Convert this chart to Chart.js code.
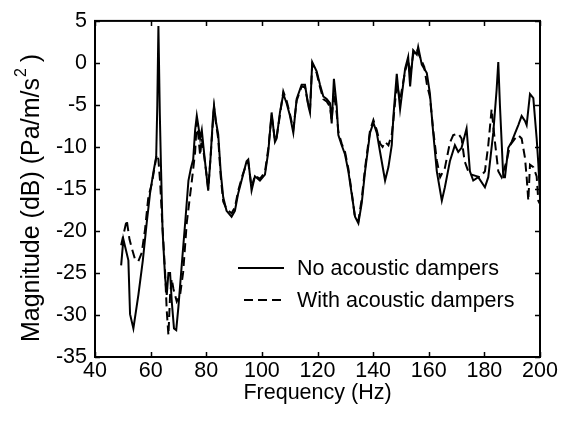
<!DOCTYPE html>
<html>
<head>
<meta charset="utf-8">
<script src="https://cdn.jsdelivr.net/npm/chart.js@4.4.1/dist/chart.umd.min.js"></script>
<style>
body{margin:0;background:#fff;}
#wrap{width:575px;height:421px;position:relative;}
</style>
</head>
<body>
<div id="wrap"><canvas id="magChart"></canvas></div>
<script>
const noDampFreq = [49.4,50.2,52.0,52.6,53.8,55.6,57.2,58.6,59.8,61.0,62.0,62.4,62.8,63.3,63.7,64.3,65.2,65.8,66.4,67.0,67.6,68.4,69.2,70.0,71.2,72.5,73.6,74.5,75.3,76.0,76.6,77.2,77.8,78.4,79.0,79.8,80.7,81.6,82.5,82.8,83.5,84.3,85.2,86.1,87.3,89.1,90.3,91.5,93.0,94.5,95.1,96.3,97.5,99.3,101.1,102.3,103.5,104.7,105.3,106.5,107.7,108.9,110.1,111.3,112.5,114.3,115.5,116.7,117.3,118.1,119.7,120.9,122.1,123.3,124.5,125.1,125.9,126.9,127.5,128.7,129.9,131.1,132.3,133.5,134.7,135.9,137.1,138.9,140.1,141.3,142.5,144.3,145.5,146.7,147.3,148.5,149.7,151.5,152.6,153.3,154.4,155.7,156.2,157.5,159.3,160.4,161.6,162.9,164.7,165.8,167.6,169.4,170.6,171.8,173.6,174.8,176.0,177.8,180.2,181.4,183.2,184.4,185.0,185.6,186.8,187.4,188.6,189.8,191.0,192.2,193.4,194.6,195.2,196.4,197.6,198.8,199.4,200.0];
const noDampMag = [-24.1,-21.0,-23.5,-29.9,-31.6,-27.6,-23.5,-19.0,-15.5,-13.0,-11.2,-5.0,4.4,-6.0,-12.0,-20.0,-25.5,-27.6,-25.0,-25.0,-28.4,-31.6,-31.8,-29.0,-24.0,-18.7,-14.0,-12.5,-11.5,-8.0,-6.3,-7.6,-9.0,-8.0,-10.0,-12.5,-15.2,-11.0,-6.0,-5.1,-7.0,-8.5,-13.0,-16.0,-17.6,-18.3,-17.6,-15.5,-13.6,-11.7,-11.5,-15.2,-13.5,-14.0,-13.3,-10.6,-5.9,-9.4,-9.0,-5.9,-3.7,-4.8,-6.3,-8.3,-4.3,-2.6,-2.6,-5.1,-5.9,0.1,-1.0,-2.6,-4.0,-4.3,-4.8,-7.2,-1.9,-5.1,-8.6,-9.8,-10.9,-12.9,-15.6,-18.3,-19.1,-16.7,-12.9,-8.3,-7.1,-8.3,-10.6,-14.0,-12.4,-9.8,-6.3,-1.3,-5.5,-0.7,0.7,-2.8,1.5,1.0,1.9,-0.2,-1.2,-3.6,-8.3,-12.9,-16.4,-14.8,-11.7,-9.8,-10.6,-10.1,-7.8,-12.9,-14.0,-13.6,-14.8,-13.6,-8.3,-3.2,0.1,-5.1,-13.6,-13.6,-10.1,-9.4,-8.4,-7.4,-6.3,-6.9,-7.4,-3.7,-4.2,-9.0,-12.0,-16.0];
const dampFreq = [49.4,50.2,51.4,52.4,53.2,54.4,55.6,56.8,58.0,59.2,60.4,61.6,62.2,62.8,63.4,64.0,65.2,65.8,66.4,67.0,67.6,68.2,69.4,70.6,71.7,73.0,74.8,76.0,76.6,77.1,77.8,78.4,79.2,80.0,80.7,81.6,82.5,82.8,83.5,84.3,85.2,86.1,87.3,89.1,90.3,91.5,93.0,94.5,95.1,96.3,97.5,99.3,101.1,102.3,103.5,104.7,105.3,106.5,107.7,108.9,110.1,111.3,112.5,114.3,115.5,116.7,117.3,118.1,119.7,120.9,122.1,123.3,124.5,125.1,125.9,126.9,127.5,128.7,129.9,131.1,132.3,133.5,134.7,135.9,137.1,138.9,140.1,141.3,142.5,143.4,144.3,145.5,146.7,147.3,148.5,149.7,151.5,152.6,153.3,154.4,155.7,156.2,157.5,158.4,159.3,160.4,161.6,162.9,164.1,165.8,167.6,168.8,170.6,171.8,172.9,174.2,175.4,178.4,180.2,181.4,182.6,183.8,185.0,186.2,188.0,189.2,191.0,192.2,193.4,194.6,195.2,195.8,196.4,197.6,198.8,199.4,200.0];
const dampMag = [-21.7,-20.5,-18.7,-21.0,-22.0,-23.4,-23.6,-22.6,-19.8,-15.9,-14.4,-12.1,-10.9,-11.5,-14.1,-17.9,-24.9,-29.5,-32.4,-27.6,-25.7,-26.9,-28.4,-27.6,-24.9,-19.0,-14.1,-10.6,-7.0,-8.5,-11.0,-9.0,-11.0,-13.0,-15.0,-11.0,-6.5,-5.3,-7.2,-9.0,-13.5,-16.5,-17.4,-17.9,-17.2,-15.2,-13.4,-12.0,-11.8,-14.8,-13.4,-13.8,-13.0,-10.2,-6.2,-9.2,-8.8,-6.2,-3.4,-4.5,-6.1,-7.9,-4.5,-2.8,-2.9,-5.0,-5.6,-0.2,-1.2,-2.9,-4.3,-4.6,-5.2,-6.8,-3.5,-6.0,-8.2,-9.6,-10.6,-12.6,-15.4,-18.5,-18.8,-16.2,-12.5,-8.0,-6.8,-8.0,-9.6,-10.0,-9.4,-9.8,-8.5,-6.8,-2.5,-4.4,-1.0,0.4,-1.5,1.0,1.7,1.2,0.2,-0.5,-2.5,-4.0,-8.0,-11.6,-13.6,-12.5,-9.5,-8.6,-8.4,-9.0,-11.7,-12.9,-13.3,-13.6,-12.9,-9.8,-5.5,-9.4,-12.9,-13.6,-11.7,-9.8,-9.0,-8.6,-9.0,-11.3,-13.6,-16.4,-12.1,-12.4,-13.5,-16.4,-16.8];
const xTicks = [40,60,80,100,120,140,160,180,200];
const yTicks = [-35,-30,-25,-20,-15,-10,-5,0,5];
const seriesNames = ["No acoustic dampers","With acoustic dampers"];
const xTitle = "Frequency (Hz)";
const yTitleParts = ["Magnitude (dB) (Pa/m/s","2"," )"];

const fontFam = "'Liberation Sans', Arial, Helvetica, sans-serif";
const fontSize = 21.5;

function toPoints(xs,ys){
return xs.map((x,i)=>({x:x,y:ys[i]}));
}

const framePlugin = {
id:"frame",
afterDatasetsDraw(chart){
const ctx = chart.ctx;
const a = chart.chartArea;
const xs = chart.scales.x;
const ys = chart.scales.y;
ctx.save();

ctx.strokeStyle = "#000";
ctx.lineWidth = 1.5;
ctx.beginPath();
xTicks.forEach(v=>{
let px = Math.round(xs.getPixelForValue(v))+0.5;
ctx.moveTo(px,a.bottom); ctx.lineTo(px,a.bottom-5);
ctx.moveTo(px,a.top); ctx.lineTo(px,a.top+5);
});
yTicks.forEach(v=>{
let py = Math.round(ys.getPixelForValue(v))+0.5;
ctx.moveTo(a.left,py); ctx.lineTo(a.left+5,py);
ctx.moveTo(a.right,py); ctx.lineTo(a.right-5,py);
});
ctx.stroke();

ctx.lineWidth = 2;
ctx.strokeRect(a.left,a.top,a.right-a.left,a.bottom-a.top);

// legend inside the plot
ctx.font = fontSize + "px " + fontFam;
ctx.fillStyle = "#000";
ctx.textBaseline = "middle";
ctx.textAlign = "left";
let rows = [268,300];
chart.data.datasets.forEach((ds,i)=>{
ctx.lineWidth = ds.borderWidth;
ctx.setLineDash(ds.borderDash || []);
ctx.beginPath();
ctx.moveTo(i==0 ? 238 : 244, rows[i]);
ctx.lineTo(284, rows[i]);
ctx.stroke();
ctx.setLineDash([]);
ctx.fillText(ds.label, 297, rows[i]+1);
});

// y axis title with superscript
let bigFont = "25px " + fontFam;
let smallFont = "16px " + fontFam;
ctx.font = bigFont;
let w0 = ctx.measureText(yTitleParts[0]).width;
let w2 = ctx.measureText(yTitleParts[2]).width;
ctx.font = smallFont;
let w1 = ctx.measureText(yTitleParts[1]).width;
let total = w0+w1+w2;
ctx.translate(32,198);
ctx.rotate(-Math.PI/2);
let sx = -total/2;
ctx.font = bigFont;
ctx.fillText(yTitleParts[0], sx, 0);
ctx.font = smallFont;
ctx.fillText(yTitleParts[1], sx+w0+1, -10);
ctx.font = bigFont;
ctx.fillText(yTitleParts[2], sx+w0+w1, 0);

ctx.restore();
}
};

function initChart(){
const ctx = document.getElementById("magChart").getContext("2d");

window.magChart = new Chart(ctx,{
type:"line",
data:{
datasets:[
{
label:seriesNames[0],
data:toPoints(noDampFreq,noDampMag),
borderColor:"#000",
borderWidth:2,
pointRadius:0,
tension:0
},
{
label:seriesNames[1],
data:toPoints(dampFreq,dampMag),
borderColor:"#000",
borderWidth:2,
borderDash:[9,5],
pointRadius:0,
tension:0
}
]
},
options:{
responsive:true,
maintainAspectRatio:false,
animation:false,
layout:{ padding:{ left:0, top:13, right:35, bottom:0 } },
plugins:{
legend:{ display:false },
tooltip:{ enabled:false }
},
scales:{
x:{
type:"linear",
min:40,
max:200,
afterFit(s){ s.height = 64; },
afterBuildTicks(s){ s.ticks = xTicks.map(v=>({value:v})); },
grid:{ display:false, drawTicks:false, tickLength:0 },
border:{ display:false },
ticks:{
color:"#000",
font:{ family:fontFam, size:fontSize },
padding:1,
maxRotation:0
},
title:{
display:true,
text:xTitle,
color:"#000",
font:{ family:fontFam, size:fontSize },
padding:{ top:0, bottom:15 }
}
},
y:{
type:"linear",
min:-35,
max:5,
afterFit(s){ s.width = 95; },
afterBuildTicks(s){ s.ticks = yTicks.map(v=>({value:v})); },
grid:{ display:false, drawTicks:false, tickLength:0 },
border:{ display:false },
ticks:{
color:"#000",
font:{ family:fontFam, size:fontSize },
padding:8
}
}
}
},
plugins:[framePlugin]
});
}

window.onload = function(){
initChart();
};
</script>
</body>
</html>
